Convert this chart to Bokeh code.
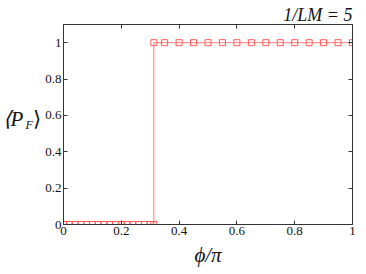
from bokeh.plotting import figure
from bokeh.models import Range1d, LinearAxis, Label, FixedTicker
from bokeh.layouts import row
from bokeh.embed import file_html
from bokeh.resources import INLINE

# data
x_low = [0.0, 0.02, 0.04, 0.06, 0.08, 0.10, 0.12, 0.14, 0.16, 0.18, 0.20,
         0.22, 0.24, 0.26, 0.28, 0.30, 0.3125]
y_low = [0] * len(x_low)
x_high = [0.3125, 0.35, 0.40, 0.45, 0.50, 0.55, 0.60, 0.65, 0.70, 0.75,
          0.80, 0.85, 0.90, 0.95, 1.0]
y_high = [1] * len(x_high)
x_ticks = [0, 0.2, 0.4, 0.6, 0.8, 1]
y_ticks = [0, 0.2, 0.4, 0.6, 0.8, 1]
title_text = "1/LM = 5"
x_label = "ϕ/π"

FONT = "serif"
RED = "#ff5a5a"
AX = "#333333"
TXT = "#111111"
LW = 40  # width of the left label strip

p = figure(width=366 - LW, height=274, output_backend="svg", toolbar_location=None,
           x_range=Range1d(0, 1), y_range=Range1d(0, 1.1),
           min_border_left=63 - LW, min_border_right=14, min_border_top=24,
           min_border_bottom=50)
p.grid.visible = False
p.outline_line_color = AX

p.line(x_low + x_high, y_low + y_high, line_color=RED, line_width=1, line_alpha=0.8)
p.scatter(x_low, y_low, marker="square", size=6, fill_color=None,
          line_color=RED, line_width=1)
p.scatter(x_high, y_high, marker="square", size=6, fill_color=None,
          line_color=RED, line_width=1)


def style(ax, ticks, show):
    ax.ticker = FixedTicker(ticks=ticks)
    ax.major_tick_in = 4
    ax.major_tick_out = 0
    ax.minor_tick_in = 0
    ax.minor_tick_out = 0
    ax.axis_line_color = AX
    ax.major_tick_line_color = AX
    ax.major_label_text_font = FONT
    ax.major_label_text_font_size = "13px"
    ax.major_label_text_color = TXT
    ax.major_label_standoff = 2
    if not show:
        ax.major_label_overrides = {t: "" for t in ticks}
        ax.major_label_standoff = 0


bottom = p.below[0]
left = p.left[0]
style(bottom, x_ticks, True)
style(left, y_ticks, True)
top = LinearAxis()
right = LinearAxis()
p.add_layout(top, "above")
p.add_layout(right, "right")
style(top, x_ticks, False)
style(right, y_ticks, False)

bottom.axis_label = x_label
bottom.axis_label_text_font = FONT
bottom.axis_label_text_font_style = "italic"
bottom.axis_label_text_font_size = "21px"
bottom.axis_label_text_color = TXT
bottom.axis_label_standoff = 5

p.title.text = title_text
p.title.align = "right"
p.title.text_font = FONT
p.title.text_font_style = "italic"
p.title.text_font_size = "18px"
p.title.text_color = TXT
p.title.standoff = 0

# left strip holding the y-axis label
q = figure(width=LW, height=274, output_backend="svg", toolbar_location=None,
           x_range=Range1d(0, LW), y_range=Range1d(0, 274),
           min_border=0, x_axis_location=None, y_axis_location=None)
q.grid.visible = False
q.outline_line_color = None
q.add_layout(Label(x=2, y=144, text="⟨P", text_font=FONT, text_font_style="italic",
                   text_font_size="21px", text_baseline="middle", text_color=TXT))
q.add_layout(Label(x=25, y=137, text="F", text_font=FONT, text_font_style="italic",
                   text_font_size="12px", text_baseline="middle", text_color=TXT))
q.add_layout(Label(x=32, y=144, text="⟩", text_font=FONT,
                   text_font_size="21px", text_baseline="middle", text_color=TXT))

layout = row(q, p, spacing=0)
open("out.html", "w").write(file_html(layout, INLINE))
